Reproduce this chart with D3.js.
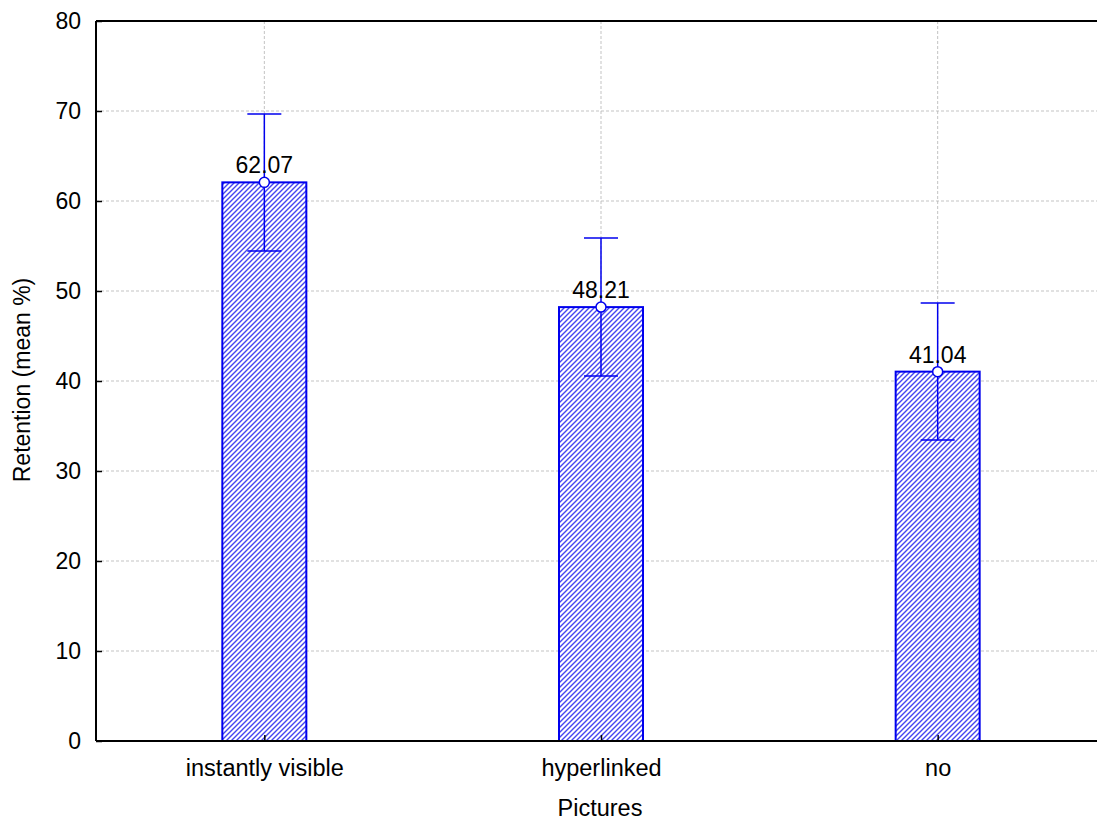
<!DOCTYPE html>
<html>
<head>
<meta charset="utf-8">
<script src="https://cdn.jsdelivr.net/npm/d3@7"></script>
<style>
  body { margin: 0; background: #fff; }
  svg text { font-family: "Liberation Sans", Arial, sans-serif; fill: #000; }
</style>
</head>
<body>
<svg id="chart" width="1098" height="823"></svg>
<script>
// chart data
const categories = ['instantly visible', 'hyperlinked', 'no'];
const means = [62.07, 48.21, 41.04];
const upper = [69.67, 55.89, 48.67];
const lower = [54.44, 40.56, 33.44];
const yTicks = [0, 10, 20, 30, 40, 50, 60, 70, 80];

const svg = d3.select('#chart');
const margin = { top: 21, right: 1, bottom: 82, left: 96 };
const width = 1098 - margin.left - margin.right;
const height = 823 - margin.top - margin.bottom;
const blue = '#0000ee';

// hatch pattern for the bars
const pattern = svg.append('defs')
  .append('pattern')
  .attr('id', 'hatch')
  .attr('patternUnits', 'userSpaceOnUse')
  .attr('width', 5)
  .attr('height', 5);
pattern.append('rect')
  .attr('width', 5).attr('height', 5)
  .attr('fill', '#fff');
pattern.append('path')
  .attr('d', 'M-1,1 l2,-2 M0,5 l5,-5 M4,6 l2,-2')
  .attr('stroke', '#4545f2')
  .attr('stroke-width', 1.4);

const g = svg.append('g')
  .attr('transform', `translate(${margin.left},${margin.top})`);

// the plot continues past the right edge of the picture, so the category
// scale spans a little more than the visible width
const x = d3.scalePoint()
  .domain(categories)
  .range([0, 1010])
  .padding(0.5);

const y = d3.scaleLinear()
  .domain([0, 80])
  .range([height, 0]);

// grid lines
g.append('g')
  .selectAll('line')
  .data(yTicks.slice(1, -1))
  .join('line')
  .attr('x1', 0).attr('x2', width)
  .attr('y1', d => y(d)).attr('y2', d => y(d))
  .attr('stroke', '#b4b4b4')
  .attr('stroke-width', 0.8)
  .attr('stroke-dasharray', '3,2');

g.append('g')
  .selectAll('line')
  .data(categories)
  .join('line')
  .attr('x1', d => x(d)).attr('x2', d => x(d))
  .attr('y1', 0).attr('y2', height)
  .attr('stroke', '#b4b4b4')
  .attr('stroke-width', 0.8)
  .attr('stroke-dasharray', '3,2');

// bars
const barW = 84;
g.selectAll('rect.bar')
  .data(means)
  .join('rect')
  .attr('class', 'bar')
  .attr('x', (d, i) => x(categories[i]) - barW / 2)
  .attr('y', d => y(d))
  .attr('width', barW)
  .attr('height', d => y(0) - y(d))
  .attr('fill', 'url(#hatch)')
  .attr('stroke', blue)
  .attr('stroke-width', 2);

// error bars
const capW = 34;
const err = g.append('g')
  .attr('stroke', blue)
  .attr('stroke-width', 1.5);
categories.forEach((c, i) => {
  err.append('line')
    .attr('x1', x(c)).attr('x2', x(c))
    .attr('y1', y(upper[i])).attr('y2', y(lower[i]));
  err.append('line')
    .attr('x1', x(c) - capW / 2).attr('x2', x(c) + capW / 2)
    .attr('y1', y(upper[i])).attr('y2', y(upper[i]));
  err.append('line')
    .attr('x1', x(c) - capW / 2).attr('x2', x(c) + capW / 2)
    .attr('y1', y(lower[i])).attr('y2', y(lower[i]));
});

// value labels
g.selectAll('text.val')
  .data(means)
  .join('text')
  .attr('class', 'val')
  .attr('x', (d, i) => x(categories[i]))
  .attr('y', d => y(d) - 9)
  .attr('text-anchor', 'middle')
  .style('font-size', '23px')
  .text(d => d.toFixed(2));

// mean points
g.selectAll('circle')
  .data(means)
  .join('circle')
  .attr('cx', (d, i) => x(categories[i]))
  .attr('cy', d => y(d))
  .attr('r', 5)
  .attr('fill', '#fff')
  .attr('stroke', blue)
  .attr('stroke-width', 1.5);

// axes
const yAxis = g.append('g')
  .call(d3.axisLeft(y).tickValues(yTicks).tickSizeInner(-6).tickSizeOuter(0).tickPadding(15));
yAxis.selectAll('text').style('font-size', '23px');

const xAxis = g.append('g')
  .attr('transform', `translate(0,${height})`)
  .call(d3.axisBottom(x).tickSizeInner(-6).tickSizeOuter(0).tickPadding(18));
xAxis.selectAll('text').style('font-size', '23.5px');

[yAxis, xAxis].forEach(a => {
  a.select('.domain').remove();
  a.selectAll('.tick line').attr('stroke', '#000').attr('stroke-width', 1.5);
});

// frame lines: left, bottom, top
const frame = g.append('g')
  .attr('stroke', '#000')
  .attr('stroke-width', 2);
frame.append('line').attr('x1', 0).attr('x2', 0).attr('y1', 0).attr('y2', height);
frame.append('line').attr('x1', 0).attr('x2', width).attr('y1', height).attr('y2', height);
frame.append('line').attr('x1', 0).attr('x2', width).attr('y1', 0).attr('y2', 0);

// axis titles
svg.append('text')
  .attr('x', 600)
  .attr('y', 816)
  .attr('text-anchor', 'middle')
  .style('font-size', '23.5px')
  .text('Pictures');

svg.append('text')
  .attr('transform', `translate(30,380) rotate(-90)`)
  .attr('text-anchor', 'middle')
  .style('font-size', '23px')
  .text('Retention (mean %)');
</script>
</body>
</html>
